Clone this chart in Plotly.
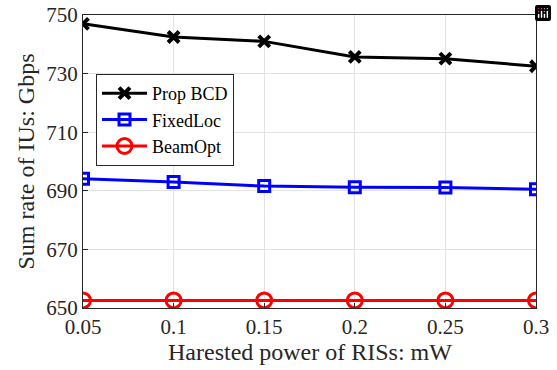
import plotly.graph_objects as go

x_vals = [0.05, 0.1, 0.15, 0.2, 0.25, 0.3]
prop_bcd = [747.0, 742.5, 741.0, 735.7, 735.1, 732.5]
fixed_loc = [694.1, 693.0, 691.6, 691.2, 691.1, 690.5]
beam_opt = [652.6, 652.6, 652.6, 652.6, 652.6, 652.6]
x_ticks = [0.05, 0.1, 0.15, 0.2, 0.25, 0.3]
x_tick_labels = ["0.05", "0.1", "0.15", "0.2", "0.25", "0.3"]
y_ticks = [650, 670, 690, 710, 730, 750]
x_title = "Harested power of RISs: mW"
y_title = "Sum rate of IUs: Gbps"

FONT = "Liberation Serif"
W, H = 557, 370
L, R, T, B = 83, 21, 15, 62
pw, ph = W - L - R, H - T - B

fig = go.Figure()
fig.add_trace(go.Scatter(x=x_vals, y=prop_bcd, name="Prop BCD", mode="lines+markers",
                         line=dict(color="black", width=3),
                         marker=dict(symbol="x-thin", size=11, line=dict(color="black", width=4))))
fig.add_trace(go.Scatter(x=x_vals, y=fixed_loc, name="FixedLoc", mode="lines+markers",
                         line=dict(color="#0000ff", width=3),
                         marker=dict(symbol="square-open", size=11, color="#0000ff", line=dict(width=3))))
fig.add_trace(go.Scatter(x=x_vals, y=beam_opt, name="BeamOpt", mode="lines+markers",
                         line=dict(color="#ff0000", width=3),
                         marker=dict(symbol="circle-open", size=15, color="#ff0000", line=dict(width=3))))

fig.update_layout(
    width=W, height=H,
    margin=dict(l=L, r=R, t=T, b=B),
    paper_bgcolor="white", plot_bgcolor="white",
    font=dict(family=FONT, size=21, color="#262626"),
    showlegend=True,
    modebar=dict(bgcolor="rgba(0,0,0,0)", color="rgba(0,0,0,0)", activecolor="rgba(0,0,0,0)"),
    legend=dict(x=(96 - L) / pw, y=(H - B - 74) / ph, xanchor="left", yanchor="top",
                bgcolor="white", bordercolor="#262626", borderwidth=1,
                font=dict(family=FONT, size=18, color="black"),
                tracegroupgap=0, itemwidth=45),
    xaxis=dict(range=[0.05, 0.3], tickvals=x_ticks, ticktext=x_tick_labels,
               showgrid=True, gridcolor="#e3e3e3", gridwidth=1,
               showline=True, linecolor="#262626", linewidth=1, mirror=True,
               ticks="inside", ticklen=5, tickcolor="#262626",
               zeroline=False, automargin=False,
               tickfont=dict(family=FONT, size=21, color="#262626")),
    yaxis=dict(range=[650, 750], tickvals=y_ticks,
               showgrid=True, gridcolor="#e3e3e3", gridwidth=1,
               showline=True, linecolor="#262626", linewidth=1, mirror=True,
               ticks="inside", ticklen=5, tickcolor="#262626",
               zeroline=False, automargin=False,
               tickfont=dict(family=FONT, size=21, color="#262626")),
    annotations=[
        dict(text=x_title, xref="paper", yref="paper", x=0.5, y=-(352 - (H - B)) / ph,
             xanchor="center", yanchor="middle", showarrow=False,
             font=dict(family=FONT, size=24, color="#262626")),
        dict(text=y_title, xref="paper", yref="paper", x=-(L - 25) / pw, y=0.5,
             xanchor="center", yanchor="middle", showarrow=False, textangle=-90,
             font=dict(family=FONT, size=24, color="#262626")),
    ],
)

fig.write_html("out.html",
               post_script="document.body.style.margin='0';document.body.style.padding='0';")
